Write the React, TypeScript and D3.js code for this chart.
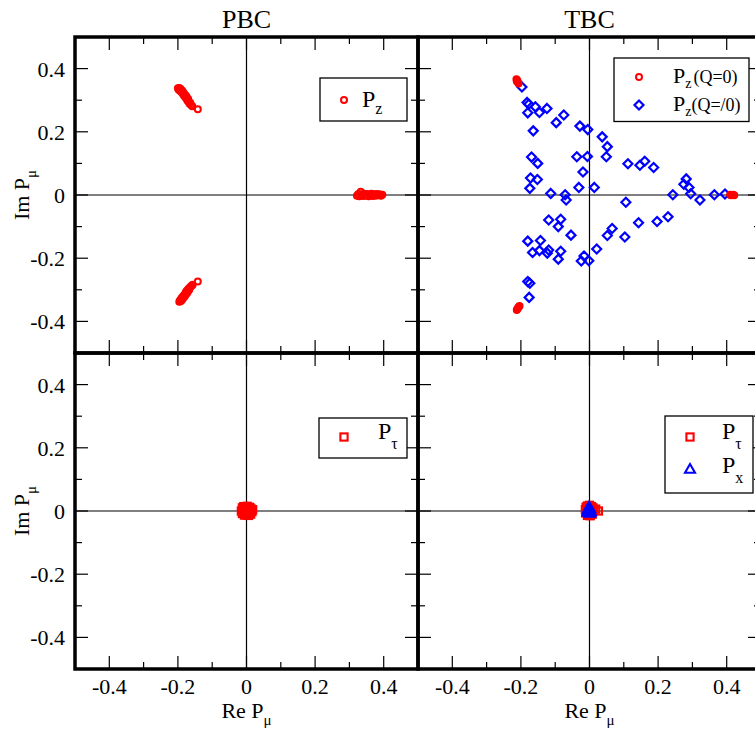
import React from "react";
import * as d3 from "d3";

const majorTicks = [-0.4, -0.2, 0, 0.2, 0.4];
const minorTicks = [-0.3, -0.1, 0.1, 0.3];
const tickLabels = ["-0.4", "-0.2", "0", "0.2", "0.4"];
const titles = ["PBC", "TBC"];

// PBC, top: P_z (all red circles)
const pbcPz: [number, number][] = [
  [-0.200, 0.338], [-0.198, 0.334], [-0.196, 0.339], [-0.195, 0.331], [-0.193, 0.336], [-0.192, 0.328],
  [-0.190, 0.332], [-0.189, 0.325], [-0.187, 0.329], [-0.186, 0.321], [-0.184, 0.318], [-0.185, 0.326],
  [-0.182, 0.314], [-0.181, 0.320], [-0.179, 0.310], [-0.178, 0.316], [-0.176, 0.306], [-0.175, 0.312],
  [-0.173, 0.302], [-0.172, 0.298], [-0.170, 0.304], [-0.168, 0.294], [-0.166, 0.289], [-0.164, 0.292],
  [-0.161, 0.284], [-0.158, 0.281], [-0.142, 0.271],
  [-0.196, -0.338], [-0.194, -0.334], [-0.192, -0.336], [-0.191, -0.330], [-0.189, -0.326], [-0.188, -0.332],
  [-0.186, -0.322], [-0.185, -0.327], [-0.183, -0.318], [-0.182, -0.323], [-0.180, -0.314], [-0.179, -0.319],
  [-0.177, -0.310], [-0.176, -0.305], [-0.174, -0.312], [-0.172, -0.301], [-0.171, -0.306], [-0.169, -0.297],
  [-0.167, -0.300], [-0.165, -0.293], [-0.163, -0.290], [-0.160, -0.287], [-0.157, -0.284], [-0.142, -0.274],
  [0.322, -0.002], [0.326, 0.003], [0.329, -0.004], [0.333, 0.010], [0.336, 0.002], [0.340, -0.003],
  [0.344, 0.004], [0.348, -0.002], [0.352, 0.003], [0.356, -0.004], [0.360, 0.001], [0.364, 0.004],
  [0.368, -0.003], [0.372, 0.002], [0.376, -0.002], [0.380, 0.003], [0.384, -0.001], [0.388, 0.002],
  [0.392, -0.002], [0.396, 0.001],
];

// TBC, top: P_z (Q=0) red circles
const tbcPzQ0: [number, number][] = [
  [-0.213, 0.366], [-0.211, 0.363], [-0.212, 0.360], [-0.209, 0.358], [-0.207, 0.353],
  [-0.212, -0.364], [-0.210, -0.360], [-0.208, -0.357], [-0.206, -0.354], [-0.204, -0.351],
  [0.410, 0.001], [0.413, -0.001], [0.416, 0.000], [0.419, 0.001], [0.422, -0.001],
];

// TBC, top: P_z (Q/=0) blue diamonds
const tbcPzQn: [number, number][] = [
  [-0.197, 0.342], [-0.182, 0.293], [-0.177, 0.287], [-0.158, 0.279], [-0.180, 0.260], [-0.146, 0.261],
  [-0.124, 0.274], [-0.075, 0.253], [-0.097, 0.229], [-0.164, 0.203], [-0.028, 0.218], [-0.005, 0.207],
  [0.037, 0.184], [0.052, 0.153], [-0.169, 0.120], [-0.151, 0.100], [-0.037, 0.121], [-0.006, 0.122],
  [0.049, 0.121], [-0.019, 0.073], [0.112, 0.099], [0.147, 0.094], [0.161, 0.107], [0.187, 0.087],
  [-0.172, 0.054], [-0.152, 0.049], [-0.174, 0.021], [-0.031, 0.024], [0.014, 0.024], [-0.113, 0.005],
  [-0.071, 0.001], [-0.068, -0.016], [0.282, 0.051], [0.275, 0.034], [0.290, 0.024], [0.243, 0.001],
  [0.295, 0.004], [0.322, -0.016], [0.364, 0.001], [0.395, 0.003], [0.106, -0.023], [-0.119, -0.079],
  [-0.084, -0.077], [-0.091, -0.100], [-0.054, -0.127], [0.066, -0.106], [0.052, -0.128], [0.103, -0.133],
  [0.143, -0.088], [0.197, -0.084], [0.229, -0.069], [-0.180, -0.146], [-0.143, -0.144], [-0.166, -0.182],
  [-0.146, -0.176], [-0.123, -0.184], [-0.119, -0.174], [-0.084, -0.178], [-0.091, -0.203], [0.021, -0.171],
  [-0.024, -0.209], [-0.016, -0.193], [-0.002, -0.208], [-0.180, -0.274], [-0.174, -0.279], [-0.176, -0.324],
];

// PBC, bottom: P_tau red squares
const pbcPtau: [number, number][] = [
  [-0.012, 0.010], [-0.008, 0.014], [-0.004, 0.012], [0.002, 0.015], [0.008, 0.012], [0.014, 0.006],
  [0.016, -0.002], [0.012, -0.010], [0.006, -0.014], [0.000, -0.012], [-0.006, -0.013], [-0.012, -0.008],
  [-0.015, 0.000], [-0.010, 0.003], [-0.004, 0.004], [0.004, 0.002], [0.009, -0.004], [-0.002, -0.005],
  [0.005, 0.007], [-0.007, -0.003], [0.018, 0.004], [0.010, 0.010],
];

// TBC, bottom: P_tau red squares
const tbcPtau: [number, number][] = [
  [-0.010, 0.012], [-0.006, 0.016], [0.000, 0.018], [0.006, 0.014], [0.010, 0.010], [0.012, 0.002],
  [0.008, -0.010], [0.002, -0.015], [-0.006, -0.014], [-0.011, -0.006], [-0.012, 0.004], [0.026, 0.000],
  [0.018, 0.006], [-0.003, 0.002], [0.004, -0.004],
];

// TBC, bottom: P_x blue triangles
const tbcPx: [number, number][] = [
  [-0.004, 0.006], [0.002, 0.008], [0.000, 0.002], [-0.006, -0.003], [0.004, -0.002], [0.001, -0.006], [-0.002, 0.012],
];

const RED = "#ff0000";
const BLUE = "#0000ff";
const FONT = "'Liberation Serif', 'Times New Roman', serif";

const W = 343;
const H = 316;
const X0 = 75;
const Y0 = 37;

type Kind = "circle" | "diamond" | "square" | "triangle";

function Marker({ kind, x, y, color, fill }: { kind: Kind; x: number; y: number; color: string; fill?: string }) {
  const f = fill ?? "none";
  if (kind === "circle") return <circle cx={x} cy={y} r={3} fill={f} stroke={color} strokeWidth={2} />;
  if (kind === "diamond") {
    const s = 4.5;
    return <path d={`M${x},${y - s}L${x + s},${y}L${x},${y + s}L${x - s},${y}Z`} fill={f} stroke={color} strokeWidth={2.2} />;
  }
  if (kind === "square") {
    const s = 3.6;
    return <rect x={x - s} y={y - s} width={2 * s} height={2 * s} fill={f} stroke={color} strokeWidth={2.1} />;
  }
  const s = 5;
  return <path d={`M${x},${y - s}L${x + s},${y + s * 0.75}L${x - s},${y + s * 0.75}Z`} fill={f} stroke={color} strokeWidth={2.1} />;
}

function Panel({ col, row, children }: { col: number; row: number; children: (sx: any, sy: any) => React.ReactNode }) {
  const x0 = X0 + col * W;
  const y0 = Y0 + row * H;
  const sx = d3.scaleLinear().domain([-0.5, 0.5]).range([x0, x0 + W]);
  const sy = d3.scaleLinear().domain([-0.5, 0.5]).range([y0 + H, y0]);
  const major = 13;
  const minor = 7;
  return (
    <g>
      <line x1={sx(0)} x2={sx(0)} y1={y0} y2={y0 + H} stroke="#000" strokeWidth={1.2} />
      <line x1={x0} x2={x0 + W} y1={sy(0)} y2={sy(0)} stroke="#000" strokeWidth={1.2} />
      {majorTicks.map((t, i) => (
        <g key={"M" + i} stroke="#000" strokeWidth={1.2}>
          <line x1={sx(t)} x2={sx(t)} y1={y0 + H} y2={y0 + H - major} />
          <line x1={sx(t)} x2={sx(t)} y1={y0} y2={y0 + major} />
          <line x1={x0} x2={x0 + major} y1={sy(t)} y2={sy(t)} />
          <line x1={x0 + W} x2={x0 + W - major} y1={sy(t)} y2={sy(t)} />
        </g>
      ))}
      {minorTicks.map((t, i) => (
        <g key={"m" + i} stroke="#000" strokeWidth={1.2}>
          <line x1={sx(t)} x2={sx(t)} y1={y0 + H} y2={y0 + H - minor} />
          <line x1={sx(t)} x2={sx(t)} y1={y0} y2={y0 + minor} />
          <line x1={x0} x2={x0 + minor} y1={sy(t)} y2={sy(t)} />
          <line x1={x0 + W} x2={x0 + W - minor} y1={sy(t)} y2={sy(t)} />
        </g>
      ))}
      {children(sx, sy)}
      {col === 0 &&
        majorTicks.map((t, i) => (
          <text key={"yl" + i} x={65} y={sy(t) + 8} textAnchor="end" fontSize={22} fontFamily={FONT}>
            {tickLabels[i]}
          </text>
        ))}
      {row === 1 &&
        majorTicks.map((t, i) => (
          <text key={"xl" + i} x={sx(t)} y={694} textAnchor="middle" fontSize={22} fontFamily={FONT}>
            {tickLabels[i]}
          </text>
        ))}
      <rect x={x0} y={y0} width={W} height={H} fill="none" stroke="#000" strokeWidth={3.5} />
    </g>
  );
}

function pts(data: [number, number][], sx: any, sy: any, kind: Kind, color: string, fill?: string) {
  return data.map((d, i) => <Marker key={kind + i} kind={kind} x={sx(d[0])} y={sy(d[1])} color={color} fill={fill} />);
}

export default function App() {
  return (
    <svg width={755} height={733} style={{ display: "block", position: "absolute", left: 0, top: 0 }}>
      <rect x={0} y={0} width={755} height={733} fill="#fff" />
      {titles.map((t, i) => (
        <text key={t} x={X0 + W * i + W / 2} y={28} textAnchor="middle" fontSize={26} fontFamily={FONT}>
          {t}
        </text>
      ))}
      <Panel col={0} row={0}>
        {(sx, sy) => (
          <g>
            {pts(pbcPz, sx, sy, "circle", RED)}
            <rect x={320} y={78} width={87} height={43} fill="#fff" stroke="#000" strokeWidth={1.3} />
            <Marker kind="circle" x={344} y={100} color={RED} />
            <text x={362} y={107} fontSize={24} fontFamily={FONT}>
              P<tspan dy={7} fontSize={16}>z</tspan>
            </text>
          </g>
        )}
      </Panel>
      <Panel col={1} row={0}>
        {(sx, sy) => (
          <g>
            {pts(tbcPzQn, sx, sy, "diamond", BLUE)}
            {pts(tbcPzQ0, sx, sy, "circle", RED)}
            <rect x={614} y={58} width={135} height={63.5} fill="#fff" stroke="#000" strokeWidth={1.3} />
            <Marker kind="circle" x={639} y={77} color={RED} />
            <Marker kind="diamond" x={639} y={105} color={BLUE} />
            <text x={673} y={83} fontSize={22} fontFamily={FONT}>
              P<tspan dy={5} fontSize={14}>z</tspan>
              <tspan dy={-5} dx={2} fontSize={18}>(Q=0)</tspan>
            </text>
            <text x={673} y={111} fontSize={22} fontFamily={FONT}>
              P<tspan dy={5} fontSize={14}>z</tspan>
              <tspan dy={-5} fontSize={18}>(Q=/0)</tspan>
            </text>
          </g>
        )}
      </Panel>
      <Panel col={0} row={1}>
        {(sx, sy) => (
          <g>
            {pts(pbcPtau, sx, sy, "square", RED)}
            <rect x={319} y={418} width={88} height={40} fill="#fff" stroke="#000" strokeWidth={1.3} />
            <Marker kind="square" x={344} y={437} color={RED} />
            <text x={378} y={439} fontSize={24} fontFamily={FONT}>
              P<tspan dy={10} fontSize={16}>τ</tspan>
            </text>
          </g>
        )}
      </Panel>
      <Panel col={1} row={1}>
        {(sx, sy) => (
          <g>
            {pts(tbcPtau, sx, sy, "square", RED)}
            {pts(tbcPx, sx, sy, "triangle", BLUE, BLUE)}
            <rect x={665} y={416} width={88} height={77} fill="#fff" stroke="#000" strokeWidth={1.3} />
            <Marker kind="square" x={690} y={437} color={RED} />
            <Marker kind="triangle" x={690} y={469} color={BLUE} />
            <text x={722} y={439} fontSize={24} fontFamily={FONT}>
              P<tspan dy={10} fontSize={16}>τ</tspan>
            </text>
            <text x={722} y={473} fontSize={24} fontFamily={FONT}>
              P<tspan dy={10} fontSize={16}>x</tspan>
            </text>
          </g>
        )}
      </Panel>
      {[0, 1].map((r) => (
        <text
          key={"yt" + r}
          transform={`translate(29,${Y0 + r * H + H / 2}) rotate(-90)`}
          textAnchor="middle"
          fontSize={22}
          fontFamily={FONT}
        >
          Im P<tspan dy={7} fontSize={15}>μ</tspan>
        </text>
      ))}
      {[0, 1].map((c) => (
        <text key={"xt" + c} x={X0 + c * W + W / 2} y={718} textAnchor="middle" fontSize={22} fontFamily={FONT}>
          Re P<tspan dy={7} fontSize={15}>μ</tspan>
        </text>
      ))}
    </svg>
  );
}
